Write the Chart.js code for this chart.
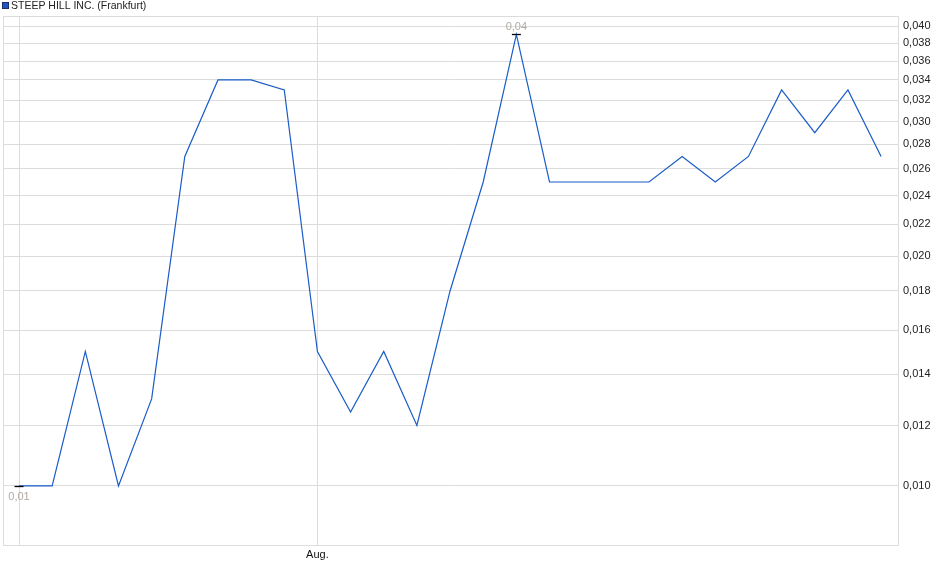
<!DOCTYPE html>
<html><head><meta charset="utf-8">
<script src="https://cdn.jsdelivr.net/npm/chart.js@4"></script>
<style>html,body{margin:0;padding:0;background:#fff}#wrap{width:940px;height:579px}</style>
</head><body><div id="wrap"><canvas id="c" width="940" height="579"></canvas></div>
<script>
const seriesName = 'STEEP HILL INC. (Frankfurt)';
const values = [0.010,0.010,0.015,0.010,0.013,0.027,0.034,0.034,0.033,0.015,0.0125,0.015,0.012,0.018,0.025,0.039,0.025,0.025,0.025,0.025,0.027,0.025,0.027,0.033,0.029,0.033,0.027];
const xTickIndex = [0, 9];
const xTickLabels = ['', 'Aug.'];
const yTicks = [0.010,0.012,0.014,0.016,0.018,0.020,0.022,0.024,0.026,0.028,0.030,0.032,0.034,0.036,0.038,0.040];
const yMin = 0.00837, yMax = 0.04123;
const xMin = -0.483, xMax = values.length - 1 + 0.51;

const FONT = '"Liberation Sans", Arial, sans-serif';
const LINE = '#1a5cc8';
const fmt = (v, d) => v.toFixed(d).replace('.', ',');

const decor = {
  id: 'decor',
  beforeDatasetsDraw(chart) {
    const {ctx, chartArea: a} = chart;
    ctx.save();
    ctx.strokeStyle = '#dcdcdc'; ctx.lineWidth = 1;
    ctx.strokeRect(Math.round(a.left) + 0.5, Math.round(a.top) + 0.5, Math.round(a.right - a.left), Math.round(a.bottom - a.top));
    ctx.restore();
  },
  afterDraw(chart) {
    const {ctx} = chart;
    const xs = chart.scales.x, ys = chart.scales.y;
    ctx.save();
    // legend
    ctx.fillStyle = '#1f55c0';
    ctx.fillRect(2, 2, 7, 7);
    ctx.strokeStyle = '#1a2f6a'; ctx.lineWidth = 1;
    ctx.strokeRect(2.5, 2.5, 6, 6);
    ctx.fillStyle = '#222';
    ctx.font = '10.5px ' + FONT;
    ctx.textBaseline = 'middle'; ctx.textAlign = 'left';
    ctx.fillText(seriesName, 11, 6);
    // high / low markers
    let hi = 0, lo = 0;
    values.forEach((v, i) => { if (v > values[hi]) hi = i; if (v < values[lo]) lo = i; });
    ctx.strokeStyle = '#000'; ctx.lineWidth = 1.3;
    const hx = xs.getPixelForValue(hi), hy = ys.getPixelForValue(values[hi]);
    ctx.beginPath(); ctx.moveTo(hx - 4.5, Math.round(hy) + 0.5); ctx.lineTo(hx + 4.5, Math.round(hy) + 0.5); ctx.stroke();
    const lx = xs.getPixelForValue(lo), ly = ys.getPixelForValue(values[lo]);
    ctx.beginPath(); ctx.moveTo(lx - 4.5, Math.round(ly) + 0.5); ctx.lineTo(lx + 4.5, Math.round(ly) + 0.5); ctx.stroke();
    ctx.fillStyle = '#b0aaa2';
    ctx.font = '11px ' + FONT;
    ctx.textAlign = 'center';
    ctx.textBaseline = 'bottom';
    ctx.fillText(fmt(values[hi], 2), hx, hy - 2);
    ctx.textBaseline = 'top';
    ctx.fillText(fmt(values[lo], 2), lx, ly + 5);
    ctx.restore();
  }
};

new Chart(document.getElementById('c'), {
  type: 'line',
  data: {
    datasets: [{
      label: seriesName,
      data: values.map((v, i) => ({x: i, y: v})),
      borderColor: LINE,
      borderWidth: 1.2,
      pointRadius: 0,
      tension: 0,
      fill: false
    }]
  },
  options: {
    responsive: false,
    animation: false,
    devicePixelRatio: 1,
    layout: {padding: {left: 3, top: 16, right: 0, bottom: 0}},
    plugins: {legend: {display: false}, tooltip: {enabled: false}},
    scales: {
      x: {
        type: 'linear', min: xMin, max: xMax,
        afterBuildTicks: s => { s.ticks = xTickIndex.map(v => ({value: v})); },
        afterFit: s => { s.height = 34; },
        grid: {color: '#dcdcdc', drawTicks: false},
        border: {display: false},
        ticks: {
          autoSkip: false, maxRotation: 0, padding: 3,
          color: '#111', font: {family: FONT, size: 11},
          callback: (v) => { const k = xTickIndex.indexOf(v); return k >= 0 ? xTickLabels[k] : ''; }
        }
      },
      y: {
        type: 'logarithmic', position: 'right', min: yMin, max: yMax,
        afterBuildTicks: s => { s.ticks = yTicks.map(v => ({value: v})); },
        afterFit: s => { s.width = 42; },
        grid: {color: '#dcdcdc', drawTicks: false},
        border: {display: false},
        ticks: {
          autoSkip: false, padding: 5,
          color: '#222', font: {family: FONT, size: 11},
          callback: (v) => fmt(v, 3)
        }
      }
    }
  },
  plugins: [decor]
});
</script>
</body></html>
